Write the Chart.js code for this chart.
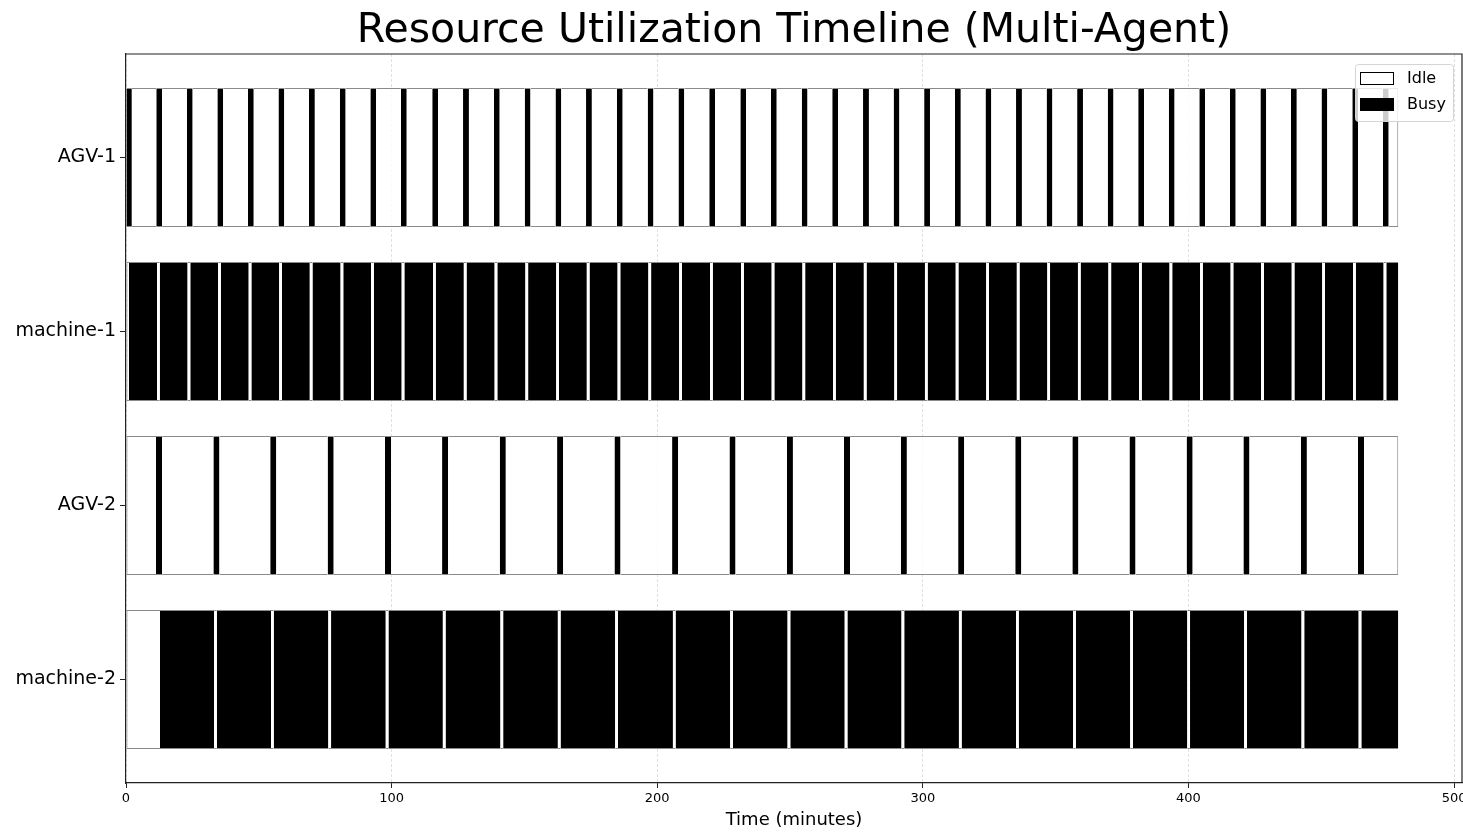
<!DOCTYPE html>
<html>
<head>
<meta charset="utf-8">
<title>Resource Utilization Timeline</title>
<script src="https://cdn.jsdelivr.net/npm/chart.js@4.4.1/dist/chart.umd.min.js"></script>
<style>
  html, body { margin: 0; padding: 0; background: #fff; }
  canvas { display: block; }
</style>
</head>
<body>
<canvas id="timeline" width="1463" height="833"></canvas>
<script>
var resources = ['AGV-1', 'machine-1', 'AGV-2', 'machine-2'];
var horizonEnd = 479;
var xTicks = [0, 100, 200, 300, 400, 500];

// busy windows (minutes)
var agv1BusyStart = [0, 11.4, 22.9, 34.4, 45.9, 57.4, 68.9, 80.5, 92.0, 103.5, 115.3, 126.9, 138.5, 150.1, 161.7, 173.2, 184.8, 196.4, 208.0, 219.6, 231.3, 242.8, 254.4, 265.9, 277.5, 289.0, 300.5, 312.1, 323.6, 335.1, 346.6, 358.1, 369.6, 381.1, 392.6, 404.1, 415.6, 427.1, 438.6, 450.1, 461.7, 473.2];
var agv1BusyEnd = [2.2, 13.6, 25.1, 36.6, 48.1, 59.6, 71.1, 82.7, 94.2, 105.7, 117.5, 129.1, 140.7, 152.3, 163.9, 175.4, 187.0, 198.6, 210.2, 221.8, 233.5, 245.0, 256.6, 268.1, 279.7, 291.2, 302.7, 314.3, 325.8, 337.3, 348.8, 360.3, 371.8, 383.3, 394.8, 406.3, 417.8, 429.3, 440.8, 452.3, 463.9, 475.4];

var machine1BusyStart = [1.1, 12.7, 24.2, 35.7, 47.2, 58.7, 70.2, 81.8, 93.3, 104.8, 116.6, 128.2, 139.8, 151.4, 163.0, 174.5, 186.1, 197.7, 209.3, 220.9, 232.6, 244.1, 255.7, 267.2, 278.8, 290.3, 301.8, 313.4, 324.9, 336.4, 347.9, 359.4, 370.9, 382.4, 393.9, 405.4, 416.9, 428.4, 439.9, 451.4, 463.0, 474.5];
var machine1BusyEnd = [11.7, 23.2, 34.7, 46.2, 57.7, 69.2, 80.8, 92.3, 103.8, 115.6, 127.2, 138.8, 150.4, 162.0, 173.5, 185.1, 196.7, 208.3, 219.9, 231.6, 243.1, 254.7, 266.2, 277.8, 289.3, 300.8, 312.4, 323.9, 335.4, 346.9, 358.4, 369.9, 381.4, 392.9, 404.4, 415.9, 427.4, 438.9, 450.4, 462.0, 473.5, 479.0];

var agv2BusyStart = [11.3, 32.9, 54.3, 75.9, 97.5, 119.0, 140.7, 162.3, 183.9, 205.6, 227.2, 248.8, 270.3, 291.7, 313.3, 334.8, 356.3, 377.8, 399.3, 420.7, 442.3, 463.8];
var agv2BusyEnd = [13.6, 35.2, 56.6, 78.2, 99.8, 121.3, 143.0, 164.6, 186.2, 207.9, 229.5, 251.1, 272.6, 294.0, 315.6, 337.1, 358.6, 380.1, 401.6, 423.0, 444.6, 466.1];

var machine2BusyStart = [12.8, 34.2, 55.6, 77.2, 98.8, 120.3, 142.0, 163.6, 185.2, 206.9, 228.5, 250.1, 271.6, 293.0, 314.6, 336.1, 357.6, 379.1, 400.6, 422.0, 443.6, 465.1];
var machine2BusyEnd = [33.2, 54.6, 76.2, 97.8, 119.3, 141.0, 162.6, 184.2, 205.9, 227.5, 249.1, 270.6, 292.0, 313.6, 335.1, 356.6, 378.1, 399.6, 421.0, 442.6, 464.1, 479.0];

var busyStarts = [agv1BusyStart, machine1BusyStart, agv2BusyStart, machine2BusyStart];
var busyEnds = [agv1BusyEnd, machine1BusyEnd, agv2BusyEnd, machine2BusyEnd];

function busySegments(row) {
    return busyStarts[row].map(function (s, i) {
        return { x: [s, busyEnds[row][i]], y: row };
    });
}

// idle = whatever is left between busy windows up to the horizon
function idleSegments(row) {
    var out = [];
    var t = 0;
    busyStarts[row].forEach(function (s, i) {
        if (s > t) out.push({ x: [t, s], y: row });
        t = busyEnds[row][i];
    });
    if (t < horizonEnd) out.push({ x: [t, horizonEnd], y: row });
    return out;
}

var idleData = [], busyData = [];
resources.forEach(function (r, row) {
    idleData = idleData.concat(idleSegments(row));
    busyData = busyData.concat(busySegments(row));
});

// thin grey outline only on the outer ends of a row, so narrow gaps stay white
function idleBorder(c) {
    var seg = c.raw;
    if (!seg) return 1;
    return {
        top: 1,
        bottom: 1,
        left: seg.x[0] === 0 ? 1 : 0,
        right: seg.x[1] === horizonEnd ? 1 : 0
    };
}

/* --- plugins --- */

var frameSpines = {
    id: 'frameSpines',
    afterDraw: function (chart) {
        var a = chart.chartArea, ctx = chart.ctx;
        ctx.save();
        ctx.strokeStyle = '#222';
        ctx.lineWidth = 1.2;
        ctx.beginPath();
        ctx.moveTo(a.left, a.top);
        ctx.lineTo(a.right, a.top);
        ctx.lineTo(a.right, a.bottom);
        ctx.stroke();
        ctx.restore();
    }
};

var boxLegend = {
    id: 'boxLegend',
    afterDraw: function (chart) {
        var a = chart.chartArea, ctx = chart.ctx;
        var w = 98, h = 57;
        var x = a.right - 9 - w, y = a.top + 10;
        ctx.save();
        ctx.fillStyle = 'rgba(255,255,255,0.8)';
        ctx.strokeStyle = '#d4d4d4';
        ctx.lineWidth = 1;
        ctx.beginPath();
        ctx.roundRect(x + 0.5, y + 0.5, w, h, 3);
        ctx.fill();
        ctx.stroke();
        ctx.font = '16px "DejaVu Sans"';
        ctx.textBaseline = 'middle';
        chart.data.datasets.forEach(function (ds, i) {
            var py = y + 8 + i * 26;
            ctx.fillStyle = ds.backgroundColor === '#000' ? '#000' : '#fff';
            ctx.fillRect(x + 5, py, 34, 13);
            ctx.strokeStyle = '#000';
            ctx.lineWidth = 1;
            ctx.strokeRect(x + 5.5, py + 0.5, 33, 12);
            ctx.fillStyle = '#000';
            ctx.fillText(ds.label, x + 52, py + 7);
        });
        ctx.restore();
    }
};

Chart.defaults.font.family = '"DejaVu Sans", sans-serif';
Chart.defaults.color = '#000';

var ctx = document.getElementById('timeline').getContext('2d');
new Chart(ctx, {
    type: 'bar',
    data: {
        datasets: [{
            label: 'Idle',
            data: idleData,
            backgroundColor: 'rgba(255,255,255,0.8)',
            borderColor: '#8a8a8a',
            borderWidth: idleBorder,
            borderSkipped: false,
            grouped: false
        }, {
            label: 'Busy',
            data: busyData,
            backgroundColor: '#000',
            borderColor: '#8a8a8a',
            borderWidth: { top: 1, bottom: 1, left: 0, right: 0 },
            borderSkipped: false,
            grouped: false
        }]
    },
    options: {
        indexAxis: 'y',
        responsive: false,
        animation: false,
        barPercentage: 1,
        categoryPercentage: 0.8,
        layout: { autoPadding: false, padding: { left: 0, right: 1, top: 0, bottom: 0 } },
        plugins: {
            legend: { display: false },
            tooltip: { enabled: false },
            title: {
                display: true,
                fullSize: false,
                text: 'Resource Utilization Timeline (Multi-Agent)',
                font: { size: 41, weight: 'normal', lineHeight: 1.0 },
                color: '#000',
                padding: { top: 11, bottom: 2 }
            }
        },
        scales: {
            x: {
                type: 'linear',
                min: 0,
                max: 503,
                afterBuildTicks: function (scale) {
                    scale.ticks = xTicks.map(function (v) { return { value: v }; });
                },
                afterFit: function (scale) {
                    scale.height = 50;
                    // let the "500" label run off the edge like the original
                    scale.paddingLeft = 0;
                    scale.paddingRight = 0;
                },
                ticks: { font: { size: 13 }, padding: 3, maxRotation: 0 },
                grid: {
                    color: 'rgba(0,0,0,0.12)',
                    tickColor: '#222',
                    tickLength: 5
                },
                border: { color: '#222', width: 1.2, dash: [3, 2] },
                title: {
                    display: true,
                    text: 'Time (minutes)',
                    font: { size: 18 },
                    padding: { top: 2, bottom: 2 }
                }
            },
            y: {
                type: 'linear',
                min: -0.595,
                max: 3.595,
                reverse: true,
                offset: false,
                afterBuildTicks: function (scale) {
                    scale.ticks = resources.map(function (r, i) { return { value: i }; });
                },
                afterFit: function (scale) {
                    scale.width = 126;
                    scale.paddingTop = 0;
                    scale.paddingBottom = 0;
                },
                ticks: {
                    font: { size: 19 },
                    padding: 4,
                    callback: function (v) { return resources[v]; }
                },
                grid: {
                    offset: false,
                    drawOnChartArea: false,
                    tickColor: '#222',
                    tickLength: 6
                },
                border: { color: '#222', width: 1.2 }
            }
        }
    },
    plugins: [frameSpines, boxLegend]
});
</script>
</body>
</html>
